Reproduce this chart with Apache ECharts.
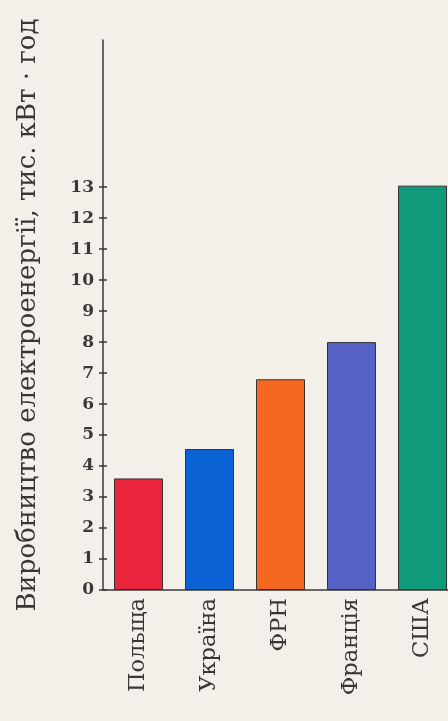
<!DOCTYPE html>
<html>
<head>
<meta charset="utf-8">
<script src="https://cdn.jsdelivr.net/npm/echarts@6/dist/echarts.min.js"></script>
<style>
  html, body { margin: 0; padding: 0; background: #f3f0ea; overflow: hidden; }
  /* the plot runs past the right edge in the scan, so the canvas is a bit wider than the page */
  #chart { width: 458px; height: 721px; }
</style>
</head>
<body>
<div id="chart"></div>
<script>
// data
const countries = ["Польща", "Україна", "ФРН", "Франція", "США"];
const production = [3.6, 4.55, 6.8, 8.0, 13.05];
const barColors = ["#e9243c", "#0b62d4", "#f4691f", "#5661c6", "#0f9a7c"];
const tickValues = [0, 1, 2, 3, 4, 5, 6, 7, 8, 9, 10, 11, 12, 13];
const axisTitle = "Виробництво електроенергії, тис. кВт · год";

const chart = echarts.init(document.getElementById("chart"));

const option = {
  backgroundColor: "#f3f0ea",
  animation: false,
  grid: { left: 103, right: 0, top: 40, bottom: 131 },
  xAxis: {
    type: "category",
    data: countries,
    axisLine: { show: true, lineStyle: { color: "#3a3838", width: 1.5 } },
    axisTick: { show: false },
    axisLabel: {
      rotate: 90,
      margin: 8,
      color: "#3a3636",
      fontFamily: "DejaVu Serif",
      fontSize: 22.5,
    },
  },
  yAxis: [
    {
      type: "value",
      min: 0,
      max: 17.75,
      name: axisTitle,
      nameLocation: "middle",
      nameRotate: 90,
      nameGap: 62,
      nameTextStyle: {
        color: "#3a3636",
        fontFamily: "DejaVu Serif",
        fontSize: 26,
      },
      splitLine: { show: false },
      axisLine: { show: true, lineStyle: { color: "#3a3838", width: 1.5 } },
      axisTick: {
        show: true,
        length: 4,
        customValues: tickValues,
        lineStyle: { color: "#3a3838", width: 1.5 },
      },
      axisLabel: {
        customValues: tickValues,
        margin: 9,
        color: "#3d3939",
        fontFamily: "DejaVu Serif",
        fontWeight: "bold",
        fontSize: 17,
      },
    },
    {
      type: "value",
      position: "left",
      min: 0,
      max: 17.75,
      splitLine: { show: false },
      axisLine: { show: false },
      axisLabel: { show: false },
      axisTick: {
        show: true,
        inside: true,
        length: 4,
        customValues: tickValues,
        lineStyle: { color: "#3a3838", width: 1.5 },
      },
    },
  ],
  series: [
    {
      type: "bar",
      yAxisIndex: 0,
      barWidth: 49,
      data: production.map((v, i) => ({
        value: v,
        itemStyle: { color: barColors[i] },
      })),
      itemStyle: { borderColor: "#3a3030", borderWidth: 1 },
    },
  ],
};

chart.setOption(option);
</script>
</body>
</html>
